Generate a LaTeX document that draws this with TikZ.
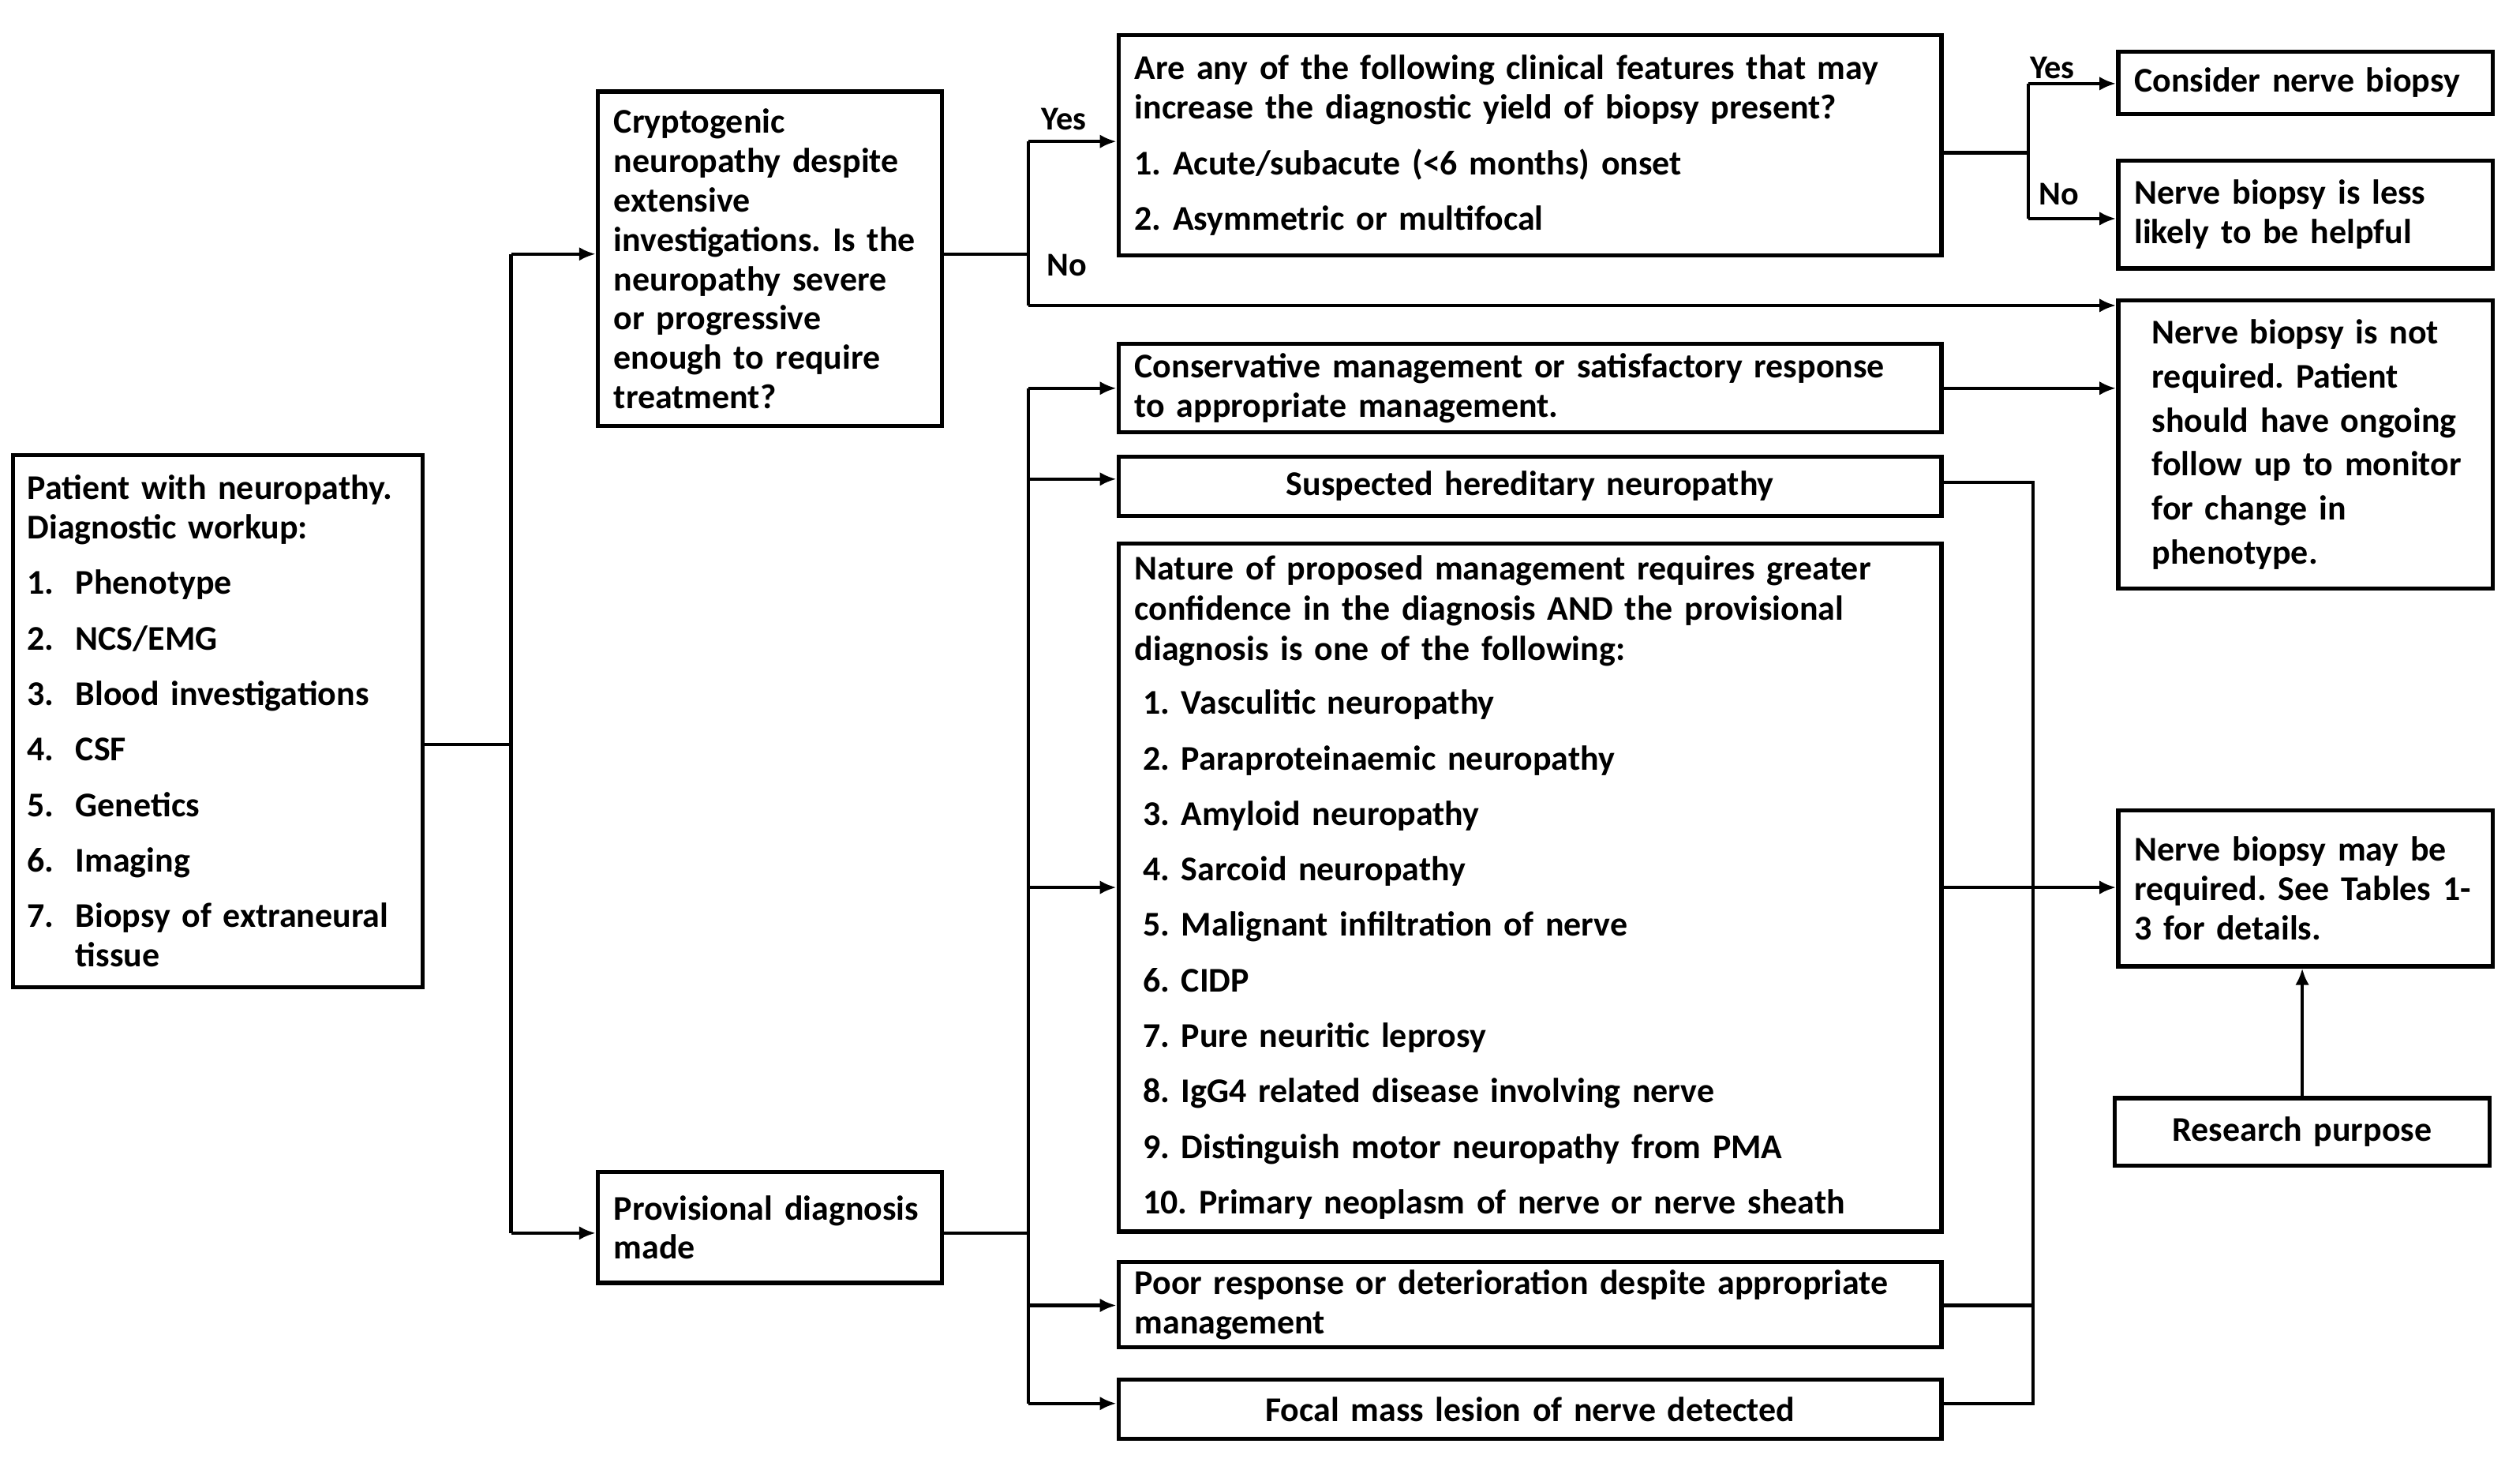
\documentclass[tikz,border=0pt]{standalone}
\usepackage{fontspec}
\setmainfont{Carlito}
\usetikzlibrary{arrows.meta}
\frenchspacing
\hyphenpenalty=10000
\exhyphenpenalty=10000
\tikzset{
  box/.style={draw, line width=1.5pt, rectangle, inner ysep=1pt, inner xsep=5.8pt, align=left,
    font=\bfseries\fontsize{12.5pt}{14.2pt}\selectfont, anchor=center},
  conn/.style={line width=1.25pt},
  arr/.style={conn, -{Latex[length=6pt,width=5pt]}},
  lbl/.style={font=\bfseries\fontsize{12pt}{14pt}\selectfont, inner sep=0pt},
}
\newcommand{\itm}[1]{\makebox[17.4pt][l]{#1}}
\begin{document}
\begin{tikzpicture}[x=0.5793pt,y=-0.5793pt]
\useasboundingbox (0,0) rectangle (1568,914);

% boxes
\node[box, minimum width=147.7pt, minimum height=191.8pt, inner xsep=5.2pt, text width=137.3pt] (patient) at (135.5,448.5)
 {Patient with neuropathy.\\
  Diagnostic workup:\\[5.8pt]
  \itm{1.}Phenotype\\[5.8pt]
  \itm{2.}NCS/EMG\\[5.8pt]
  \itm{3.}Blood investigations\\[5.8pt]
  \itm{4.}CSF\\[5.8pt]
  \itm{5.}Genetics\\[5.8pt]
  \itm{6.}Imaging\\[5.8pt]
  \itm{7.}Biopsy of extraneural\\
  \itm{}tissue};

\node[box, minimum width=124pt, minimum height=120.5pt, text width=112.4pt] (crypt) at (479,161)
 {Cryptogenic\\ neuropathy despite\\ extensive\\ investigations. Is the\\ neuropathy severe\\ or progressive\\ enough to require\\ treatment?};

\node[box, minimum width=124pt, minimum height=40pt, text width=112.4pt] (prov) at (479,763.5)
 {Provisional diagnosis\\ made};

\node[box, minimum width=296.6pt, minimum height=79.4pt, text width=285pt] (areany) at (952,90.5)
 {Are any of the following clinical features that may\\
  increase the diagnostic yield of biopsy present?\\[5.8pt]
  1. Acute/subacute (<6 months) onset\\[5.8pt]
  2. Asymmetric or multifocal};

\node[box, minimum width=135pt, minimum height=22.6pt, text width=123.4pt] (consider) at (1434.5,51.5)
 {Consider nerve biopsy};

\node[box, minimum width=135pt, minimum height=38.8pt, text width=123.4pt] (less) at (1434.5,133.5)
 {Nerve biopsy is less\\ likely to be helpful};

\node[box, minimum width=135pt, minimum height=103.7pt, inner xsep=4pt, text width=127pt] (notreq) at (1434.5,276.5)
 {\leftskip=8.2pt Nerve biopsy is not\\[1.7pt] required. Patient\\[1.7pt] should have ongoing\\[1.7pt] follow up to monitor\\[1.7pt] for change in\\[1.7pt] phenotype.\par};

\node[box, minimum width=296.6pt, minimum height=31.9pt, text width=285pt] (cons) at (952,241.5)
 {Conservative management or satisfactory response\\ to appropriate management.};

\node[box, minimum width=296.6pt, minimum height=21.4pt, text width=285pt, align=center] (susp) at (952,302.5)
 {Suspected hereditary neuropathy};

\node[box, minimum width=296.6pt, minimum height=248pt, text width=285pt] (nature) at (952,552)
 {Nature of proposed management requires greater\\[0.3pt]
  confidence in the diagnosis AND the provisional\\[0.3pt]
  diagnosis is one of the following:\\[5.2pt]
  \hspace*{3pt}1. Vasculitic neuropathy\\[5.8pt]
  \hspace*{3pt}2. Paraproteinaemic neuropathy\\[5.8pt]
  \hspace*{3pt}3. Amyloid neuropathy\\[5.8pt]
  \hspace*{3pt}4. Sarcoid neuropathy\\[5.8pt]
  \hspace*{3pt}5. Malignant infiltration of nerve\\[5.8pt]
  \hspace*{3pt}6. CIDP\\[5.8pt]
  \hspace*{3pt}7. Pure neuritic leprosy\\[5.8pt]
  \hspace*{3pt}8. IgG4 related disease involving nerve\\[5.8pt]
  \hspace*{3pt}9. Distinguish motor neuropathy from PMA\\[5.8pt]
  \hspace*{3pt}10. Primary neoplasm of nerve or nerve sheath};

\node[box, minimum width=296.6pt, minimum height=30.7pt, text width=285pt] (poor) at (952,811.5)
 {Poor response or deterioration despite appropriate\\ management};

\node[box, minimum width=296.6pt, minimum height=21.4pt, text width=285pt, align=center] (focal) at (952,876.5)
 {Focal mass lesion of nerve detected};

\node[box, minimum width=135pt, minimum height=56.2pt, inner xsep=4pt, text width=127pt] (maybe) at (1434.5,552.5)
 {\leftskip=1.8pt Nerve biopsy may be\\ required. See Tables 1-\\ 3 for details.\par};

\node[box, minimum width=135pt, minimum height=24.3pt, text width=123.4pt, align=center] (research) at (1432.5,704)
 {Research purpose};

% junction coordinates
\coordinate (j1) at (318,463);
\coordinate (j1t) at (318,158);
\coordinate (j1b) at (318,767);
\coordinate (j2) at (640,158);
\coordinate (j2t) at (640,88);
\coordinate (j2b) at (640,190);
\coordinate (j3) at (1262,95);
\coordinate (j3t) at (1262,52);
\coordinate (j3b) at (1262,136);
\coordinate (j4) at (640,767);
\coordinate (j4t) at (640,241.5);
\coordinate (j4s) at (640,298);
\coordinate (j4n) at (640,552);
\coordinate (j4p) at (640,812);
\coordinate (j4b) at (640,873);
\coordinate (j5t) at (1265,300);
\coordinate (j5p) at (1265,812);
\coordinate (j5b) at (1265,873);

% connectors
\draw[conn] (patient.east |- j1) -- (j1);
\draw[conn] (j1t) -- (j1b);
\draw[arr] (j1t) -- (crypt.west |- j1t);
\draw[arr] (j1b) -- (prov.west |- j1b);

\draw[conn] (crypt.east |- j2) -- (j2);
\draw[conn] (j2t) -- (j2b);
\draw[arr] (j2t) -- (areany.west |- j2t);
\draw[arr] (j2b) -- (notreq.west |- j2b);

\draw[conn] (areany.east |- j3) -- (j3);
\draw[conn] (j3t) -- (j3b);
\draw[arr] (j3t) -- (consider.west |- j3t);
\draw[arr] (j3b) -- (less.west |- j3b);

\draw[conn] (prov.east |- j4) -- (j4);
\draw[conn] (j4t) -- (j4b);
\draw[arr] (j4t) -- (cons.west |- j4t);
\draw[arr] (j4s) -- (susp.west |- j4s);
\draw[arr] (j4n) -- (nature.west |- j4n);
\draw[arr] (j4p) -- (poor.west |- j4p);
\draw[arr] (j4b) -- (focal.west |- j4b);

\draw[arr] (cons.east) -- (notreq.west |- cons.east);
\draw[conn] (susp.east |- j5t) -- (j5t) -- (j5b) -- (focal.east |- j5b);
\draw[conn] (poor.east |- j5p) -- (j5p);
\draw[arr] (nature.east) -- (maybe.west |- nature.east);
\draw[arr] (research.north) -- (research.north |- maybe.south);

% labels
\node[lbl] (yes1) at (662,74) {Yes};
\node[lbl] (no1) at (664,165) {No};
\node[lbl] (yes2) at (1277,42) {Yes};
\node[lbl] (no2) at (1281,121) {No};
\end{tikzpicture}
\end{document}
